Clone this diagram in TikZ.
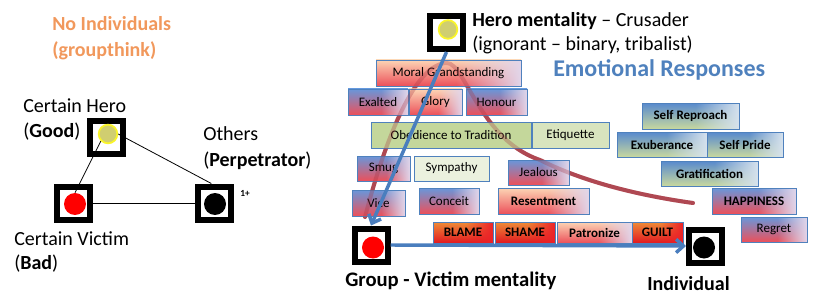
\documentclass[tikz,border=0pt]{standalone}
\usepackage{fontspec}
\setmainfont{Carlito}
\usetikzlibrary{arrows.meta,fadings,calc}
\definecolor{bordblue}{RGB}{79,129,189}
\definecolor{arrblue}{RGB}{74,126,190}
\definecolor{arcred}{RGB}{165,50,62}
\definecolor{orangetxt}{RGB}{241,152,92}
\definecolor{rbblue}{RGB}{105,150,218}
\definecolor{rbmid}{RGB}{250,226,232}
\definecolor{rbred}{RGB}{236,80,90}
\definecolor{bandred}{RGB}{240,55,65}
\definecolor{lav}{RGB}{226,214,234}
\definecolor{peach}{RGB}{252,212,180}
\definecolor{peachmid}{RGB}{248,180,160}
\definecolor{hotor}{RGB}{238,140,55}
\definecolor{hotred}{RGB}{236,34,40}
\definecolor{hotdark}{RGB}{226,24,32}
\definecolor{bgblue}{RGB}{88,138,206}
\definecolor{bgmid}{RGB}{214,224,178}
\definecolor{bggreen}{RGB}{200,216,158}
\definecolor{bgright}{RGB}{214,226,238}
\definecolor{greenA}{RGB}{196,215,155}
\definecolor{greenB}{RGB}{216,228,190}
\definecolor{greenC}{RGB}{235,241,222}
\definecolor{dotyel}{RGB}{208,206,112}
\definecolor{glowyel}{RGB}{250,245,40}
\tikzfading[name=bandfade, left color=transparent!100, middle color=transparent!0, right color=transparent!100]
\tikzfading[name=rightfade, left color=transparent!100, right color=transparent!0]
\newcommand\boxfont{\fontsize{9.75}{11}\selectfont}
\newcommand\ebox[7]{\node[#1, minimum width={(#5-#3)*0.75pt}, minimum height={(#6-#4)*0.75pt}] (#2) at ({(#3+#5)/2},{(#4+#6)/2}) {#7};}
\newcommand\arcpath{(365,217) .. controls (385,140) and (415,63) .. (447,63)
  .. controls (465,63) and (480,140) .. (540,160)
  .. controls (590,185) and (650,197) .. (693,203)}
\tikzset{
  emo/.style={draw=bordblue, line width=0.6pt, inner sep=0pt, font=\boxfont, text=black},
  layered/.style n args={5}{emo, path picture={
    \shade[top color=#1, middle color=#2, bottom color=#3]
      (path picture bounding box.south west) rectangle (path picture bounding box.north east);
    \fill[#4, path fading=bandfade]
      ($(path picture bounding box.south west)!0.38!(path picture bounding box.south east)$) rectangle
      ($(path picture bounding box.north west)!0.82!(path picture bounding box.north east)$);
    \fill[#5, path fading=rightfade]
      ($(path picture bounding box.south west)!0.55!(path picture bounding box.south east)$) rectangle
      (path picture bounding box.north east);
  }},
  rb/.style={layered={rbblue}{rbmid}{rbred}{bandred}{lav}},
  pr/.style={layered={peach}{peachmid}{rbred}{bandred}{lav}},
  hot/.style={layered={hotor}{hotred}{hotdark}{hotred}{hotred}, font=\boxfont\bfseries},
  bg/.style={layered={bgblue}{bgmid}{bggreen}{bgmid}{bgright}, font=\boxfont\bfseries},
  grA/.style={emo, fill=greenA},
  grB/.style={emo, fill=greenB},
  grC/.style={emo, fill=greenC},
  bold/.style={font=\boxfont\bfseries},
  sqbox/.style={draw=black, fill=white, line width=4.5pt, minimum size=24.75pt, inner sep=0pt},
  dot/.style={circle, inner sep=0pt, minimum size=#1},
  txt/.style={inner sep=0pt, anchor=base west, font=\fontsize{15}{18}\selectfont},
  thinline/.style={draw=black, line width=0.6pt},
  arcline/.style={draw=arcred, line width=3pt, line cap=round},
  bluearrow/.style={draw=arrblue, line width=2.6pt, -{Straight Barb[length=5.5pt, width=10pt, line width=2.6pt]}},
}
\begin{document}
\begin{tikzpicture}[x=0.75pt,y=-0.75pt]
\useasboundingbox (0,0) rectangle (817,303);

% ---------- left part ----------
\node[txt, text=orangetxt, font=\fontsize{15}{18}\selectfont\bfseries] (ni) at (52,31) {No Individuals};
\node[txt, text=orangetxt, font=\fontsize{15}{18}\selectfont\bfseries] (gt) at (52,57) {(groupthink)};

\node[sqbox] (lhb) at (106,137) {};
\node[sqbox] (lvb) at (73,203) {};
\node[sqbox] (lob) at (214,203) {};
\node[dot=14pt, fill=dotyel, draw=glowyel, line width=1.3pt] (lhc) at (108,134) {};
\node[dot=16.5pt, fill=red] (lvc) at (75,204) {};
\node[dot=16.5pt, fill=black] (loc) at (215,204) {};

\draw[thinline] (lhc.east) -- ([xshift=-2pt]lob.north);
\draw[thinline] (lhc.south west) -- (lvc.north);
\draw[thinline] (lvb.east) -- (lob.west);

\node[txt] (ch) at (23,113) {Certain Hero};
\node[txt] (cg) at (23,137) {(\textbf{Good})};
\node[txt] (ot) at (203,140) {Others};
\node[txt] (op) at (203,166) {(\textbf{Perpetrator})};
\node[txt] (cv) at (14,245) {Certain Victim};
\node[txt] (cb) at (14,269) {(\textbf{Bad})};
\node[txt, font=\fontsize{7}{8}\selectfont\bfseries] (one) at (240,196) {1+};

% ---------- right part ----------
\node[sqbox] (rhb) at (446.5,32.5) {};
\node[dot=14pt, fill=dotyel, draw=glowyel, line width=1.3pt] (rhc) at (448,29.5) {};
\node[txt] (hm) at (472,27) {\textbf{Hero mentality} – Crusader};
\node[txt] (ig) at (472,51) {(ignorant – binary, tribalist)};
\node[txt, text=bordblue, font=\fontsize{18}{20}\selectfont\bfseries] (er) at (553,77) {Emotional Responses};

% red arc, behind the boxes
\draw[arcline, opacity=0.85] \arcpath;

\ebox{pr}{mg}{376}{60}{521}{86}{Moral Grandstanding}
\ebox{rb}{ex}{348}{89}{408}{115}{Exalted}
\ebox{pr}{gl}{409}{89}{462}{115}{Glory}
\ebox{rb}{ho}{466}{89}{527}{115}{Honour}
\ebox{grA}{ob}{371}{122}{531}{148}{Obedience to Tradition}
\ebox{grB}{et}{532}{122}{609}{148}{Etiquette}
\ebox{rb}{sm}{357}{156}{410}{181}{Smug}
\ebox{grC}{sy}{414}{156}{489}{181}{Sympathy}
\ebox{rb}{je}{508}{160}{569}{185}{Jealous}
\ebox{rb}{vi}{352}{190}{405}{216}{Vice}
\ebox{rb}{co}{419}{188}{479}{214}{Conceit}
\ebox{pr,bold}{re}{498}{188}{589}{214}{Resentment}
\ebox{hot}{bl}{433}{222}{493}{243}{BLAME}
\ebox{hot}{sh}{495}{222}{555}{243}{SHAME}
\ebox{pr,bold}{pa}{557}{222}{632}{243}{Patronize}
\ebox{hot}{gu}{632}{222}{683}{243}{GUILT}
\ebox{bg}{sr}{642}{103}{739}{129}{Self Reproach}
\ebox{bg}{eu}{617}{132}{707}{157}{Exuberance}
\ebox{bg}{sp}{707}{132}{783}{157}{Self Pride}
\ebox{bg}{gr}{661}{161}{758}{186}{Gratification}
\ebox{rb,bold}{ha}{712}{188}{796}{214}{HAPPINESS}
\ebox{rb}{rg}{741}{217}{807}{242}{Regret}

% the arc showing faintly through the boxes
\draw[arcline, opacity=0.3] \arcpath;

\node[sqbox] (rvb) at (371,245) {};
\node[dot=16.5pt, fill=red] (rvc) at (373,247.5) {};
\node[sqbox] (ib) at (705.5,246) {};
\node[dot=16.5pt, fill=black] (ic) at (704,247.5) {};

\draw[bluearrow] (rhb.south) -- (rvb.north);
\draw[bluearrow] (rvb.east) -- (ib.west);

\node[txt, font=\fontsize{15.5}{18}\selectfont\bfseries] (gv) at (345,286) {Group - Victim mentality};
\node[txt, font=\fontsize{15}{18}\selectfont\bfseries] (ind) at (647,290) {Individual};
\end{tikzpicture}
\end{document}
